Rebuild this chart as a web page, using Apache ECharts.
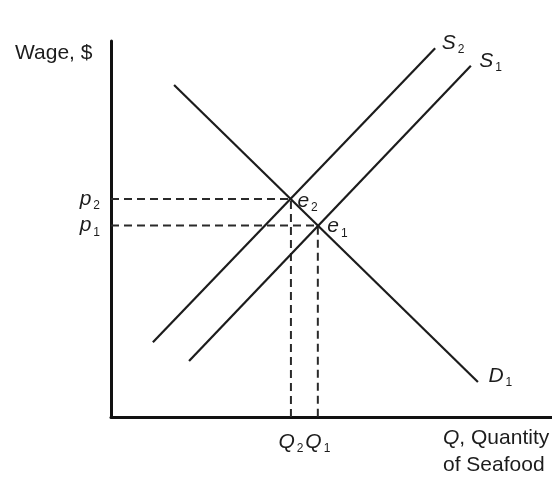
<!DOCTYPE html>
<html>
<head>
<meta charset="utf-8">
<script src="https://cdn.jsdelivr.net/npm/echarts@6/dist/echarts.min.js"></script>
<style>
  html, body { margin: 0; padding: 0; background: #fff; }
  #main { width: 552px; height: 487px; }
</style>
</head>
<body>
<div id="main"></div>
<script>
// line end points (Q on 0-100, wage on 0-100)
const demand1 = [[14.3, 88.3], [83.2, 9.3]]
const supply1 = [[17.7, 14.9], [81.6, 93.4]]
const supply2 = [[9.5, 19.9], [73.5, 98.1]]
// equilibria
const e1 = [46.9, 50.9]
const e2 = [40.8, 58.0]
const priceTicks = [e1[1], e2[1]]
const priceNames = ['1', '2']
const qtyTicks = [e2[0], e1[0]]
const qtyNames = ['2', '1']

const font = 'Liberation Sans, Arial, Helvetica, sans-serif'
const ink = '#1c1c1c'

const rich = {
  it: { fontFamily: font, fontStyle: 'italic', fontSize: 21, color: ink },
  sub: { fontFamily: font, fontSize: 12, color: ink, padding: [14, 0, 0, 2] },
}

const symName = (letter, sub) => '{it|' + letter + '}{sub|' + sub + '}'

const hidden = { color: 'rgba(0,0,0,0)' }

const lineSeries = (pts, letter, sub, dist, off) => ({
  type: 'line',
  symbol: 'circle',
  symbolSize: 1,
  showSymbol: true,
  itemStyle: hidden,
  silent: true,
  lineStyle: { color: ink, width: 2.2 },
  data: [
    pts[0],
    {
      value: pts[1],
      label: {
        show: true,
        position: 'right',
        distance: dist,
        offset: off,
        formatter: symName(letter, sub),
        rich: rich,
      },
    },
  ],
})

const guideSeries = (pt, sub, dist, off) => ({
  type: 'line',
  symbol: 'circle',
  symbolSize: 1,
  showSymbol: true,
  itemStyle: hidden,
  silent: true,
  z: 1,
  lineStyle: { color: '#2a2a2a', width: 2, type: [8, 5] },
  data: [
    [0, pt[1]],
    {
      value: pt,
      label: {
        show: true,
        position: 'right',
        distance: dist,
        offset: off,
        formatter: symName('e', sub),
        rich: rich,
      },
    },
    [pt[0], 0],
  ],
})

const chart = echarts.init(document.getElementById('main'))
chart.setOption({
  animation: false,
  grid: { left: 111, top: 41, right: 0, bottom: 70 },
  xAxis: {
    type: 'value',
    min: 0,
    max: 100,
    splitLine: { show: false },
    axisTick: { show: false },
    axisLine: { lineStyle: { color: '#111', width: 3 } },
    axisLabel: {
      customValues: qtyTicks,
      margin: 12,
      formatter: (v) => symName('Q', qtyNames[qtyTicks.indexOf(v)]),
      rich: rich,
    },
  },
  yAxis: {
    type: 'value',
    min: 0,
    max: 100,
    splitLine: { show: false },
    axisTick: { show: false },
    axisLine: { lineStyle: { color: '#111', width: 3 } },
    axisLabel: {
      customValues: priceTicks,
      margin: 11,
      formatter: (v) => symName('p', priceNames[priceTicks.indexOf(v)]),
      rich: rich,
    },
  },
  graphic: [
    {
      type: 'text',
      left: 15,
      top: 43,
      style: { text: 'Wage, $', font: '21px ' + font, fill: ink },
    },
    {
      type: 'text',
      left: 443,
      top: 428,
      style: {
        text: '{it|Q}{n|, Quantity}\n{n|of Seafood}',
        fill: ink,
        rich: {
          it: { fontFamily: font, fontStyle: 'italic', fontSize: 21, lineHeight: 27 },
          n: { fontFamily: font, fontSize: 21, lineHeight: 27 },
        },
      },
    },
  ],
  series: [
    guideSeries(e2, '2', 6, [0, 2]),
    guideSeries(e1, '1', 9, [0, 1]),
    lineSeries(demand1, 'D', '1', 10, [0, -6]),
    lineSeries(supply2, 'S', '2', 6, [0, -5]),
    lineSeries(supply1, 'S', '1', 8, [0, -5]),
  ],
})
</script>
</body>
</html>
